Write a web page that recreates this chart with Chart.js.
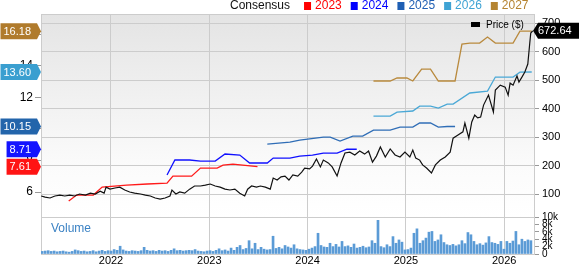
<!DOCTYPE html>
<html>
<head>
<meta charset="utf-8">
<script src="https://cdn.jsdelivr.net/npm/chart.js@4.4.1/dist/chart.umd.min.js"></script>
<style>
  html, body { margin: 0; background: #fff; }
  #chart { display: block; }
</style>
</head>
<body>
<canvas id="chart" width="579" height="264"></canvas>
<script>
// data: [decimal year, value]
const years = [2022, 2023, 2024, 2025, 2026];
const priceTicks = [100, 200, 300, 400, 500, 600, 700];
const epsTicks = [6, 8, 10, 12, 14, 16];
const volTicks = [0, 2, 4, 6, 8, 10];

const price = [
  [2021.29,93],[2021.33,89],[2021.38,86],[2021.43,93],[2021.48,96],[2021.53,93],[2021.58,96],[2021.63,93],
  [2021.68,100],[2021.74,96],[2021.79,103],[2021.84,100],[2021.89,110],[2021.93,103],[2021.95,124],[2021.99,117],
  [2022.04,121],[2022.09,124],[2022.14,114],[2022.19,107],[2022.24,103],[2022.30,100],[2022.35,96],[2022.40,93],
  [2022.45,86],[2022.50,82],[2022.55,86],[2022.60,93],[2022.62,114],[2022.66,100],[2022.70,107],[2022.75,103],
  [2022.80,117],[2022.85,128],[2022.91,128],[2022.96,131],[2023.01,135],[2023.06,128],[2023.11,124],[2023.16,117],
  [2023.21,114],[2023.26,117],[2023.31,103],[2023.36,93],[2023.39,117],[2023.43,128],[2023.48,124],[2023.52,128],
  [2023.57,124],[2023.62,117],[2023.65,156],[2023.69,149],[2023.73,160],[2023.77,163],[2023.81,149],[2023.85,167],
  [2023.90,163],[2023.94,177],[2023.97,191],[2024.02,188],[2024.05,198],[2024.09,223],[2024.13,195],[2024.16,219],
  [2024.21,209],[2024.25,195],[2024.30,163],[2024.34,209],[2024.38,244],[2024.43,247],[2024.48,237],[2024.53,251],
  [2024.58,240],[2024.62,251],[2024.66,212],[2024.70,233],[2024.74,265],[2024.79,230],[2024.84,258],[2024.89,237],
  [2024.94,230],[2024.99,247],[2025.04,230],[2025.07,254],[2025.10,226],[2025.14,219],[2025.17,202],[2025.21,191],
  [2025.26,174],[2025.30,202],[2025.35,219],[2025.40,230],[2025.45,247],[2025.48,296],[2025.53,307],[2025.58,318],
  [2025.60,349],[2025.64,296],[2025.67,353],[2025.70,377],[2025.73,367],[2025.76,370],[2025.79,412],[2025.84,447],
  [2025.89,388],[2025.91,465],[2025.96,482],[2026.01,475],[2026.04,447],[2026.06,489],[2026.09,482],[2026.13,514],
  [2026.15,493],[2026.18,510],[2026.21,528],[2026.24,556],[2026.26,630],[2026.27,665],[2026.29,672.64]
];

const eps2023 = [[2021.57,5.43],[2021.65,5.81],[2021.82,5.81],[2021.91,6.32],[2022.16,6.44],[2022.37,6.51],[2022.57,6.57],
  [2022.63,7.01],[2022.82,7.01],[2022.91,7.52],[2023.08,7.52],[2023.14,7.71],[2023.24,7.77],[2023.34,7.70],[2023.49,7.61]];
const eps2024 = [[2022.57,7.08],[2022.65,8.03],[2022.80,8.03],[2022.91,7.96],[2023.06,7.96],[2023.16,8.41],[2023.31,8.34],
  [2023.41,7.84],[2023.59,7.84],[2023.65,8.15],[2023.82,8.15],[2023.92,8.28],[2024.05,8.34],[2024.16,8.47],[2024.30,8.47],
  [2024.40,8.71],[2024.50,8.71]];
const eps2025 = [[2023.59,9.04],[2023.82,9.16],[2023.92,9.29],[2024.16,9.48],[2024.23,9.48],[2024.33,9.23],[2024.46,9.54],
  [2024.56,9.54],[2024.67,9.92],[2024.84,9.92],[2024.94,10.11],[2025.07,10.11],[2025.14,10.37],[2025.25,10.37],[2025.33,10.11],
  [2025.42,10.15],[2025.50,10.15]];
const eps2026 = [[2024.67,10.81],[2024.84,10.81],[2024.91,11.06],[2025.07,11.13],[2025.14,11.44],[2025.25,11.44],[2025.33,11.32],
  [2025.42,11.57],[2025.48,11.57],[2025.65,12.27],[2025.83,12.39],[2025.91,13.28],[2026.09,13.28],[2026.16,13.59],[2026.28,13.60]];
const eps2027 = [[2024.67,13.03],[2024.84,13.03],[2024.91,13.22],[2025.01,13.22],[2025.07,13.03],[2025.16,13.78],[2025.25,13.78],
  [2025.33,13.03],[2025.50,13.03],[2025.57,15.37],[2025.65,15.43],[2025.75,15.43],[2025.83,15.81],[2025.91,15.43],[2026.09,15.43],
  [2026.16,16.18],[2026.28,16.18]];

// volume in thousands, one bar every volStep years from volStart
const volStart = 2021.30;
const volStep = 0.0305;
const volume = [
  0.7,0.8,0.9,0.7,0.8,0.6,0.7,0.8,0.6,0.5,0.7,1.1,0.9,0.7,0.8,0.6,0.7,0.9,0.6,0.8,1.0,0.7,
  0.9,0.8,1.2,1.0,2.1,1.1,0.8,0.7,0.9,0.8,0.7,
  0.9,1.8,1.0,0.8,0.9,0.7,1.0,0.8,0.9,0.7,1.0,1.4,0.9,1.0,0.8,0.9,1.0,0.9,1.2,0.8,
  0.7,0.6,0.8,0.9,0.7,1.0,1.4,0.9,1.1,0.8,1.6,1.0,1.8,2.3,1.2,1.5,3.6,1.4,2.9,1.2,1.8,
  1.3,1.1,1.2,4.8,1.5,1.8,1.4,2.3,1.9,1.6,2.5,1.4,1.2,
  1.1,1.0,1.3,1.6,2.0,5.6,2.3,1.9,1.8,2.9,2.0,2.6,1.9,3.4,2.0,2.2,1.8,2.7,1.6,1.8,2.1,1.7,1.9,3.6,2.9,9.1,
  2.0,1.7,2.5,2.0,4.7,2.9,3.8,3.2,1.1,1.2,1.6,5.6,6.8,2.9,3.6,4.3,5.9,6.1,3.4,3.8,5.2,3.1,2.5,2.3,2.6,2.2,
  2.5,3.6,2.8,5.8,5.2,3.4,2.5,2.8,2.4,3.0,4.7,3.1,2.9,2.6,3.4,1.3,3.4,2.9,3.5,6.1,2.5,4.0,3.4,3.8,3.6
];

const consensus = [
  { label: '2023', data: eps2023, color: '#ff0000', line: '#ff1a1a', tag: '#ff1414' },
  { label: '2024', data: eps2024, color: '#0000ff', line: '#1010ff', tag: '#1414ff' },
  { label: '2025', data: eps2025, color: '#1f5fb4', line: '#2f6db6', tag: '#2365ab' },
  { label: '2026', data: eps2026, color: '#3fa3d4', line: '#4aa8d6', tag: '#3a9fd0' },
  { label: '2027', data: eps2027, color: '#b58431', line: '#b98a3e', tag: '#b07b2c' }
];

const FONT = "'Liberation Sans', Arial, sans-serif";
Chart.defaults.font.family = FONT;

const pts = a => a.map(([x, y]) => ({ x, y }));
const fixTicks = list => s => { s.ticks = list.map(v => ({ value: v })); };

const datasets = [
  {
    type: 'line', label: 'Price ($)', data: pts(price), yAxisID: 'yPrice',
    borderColor: '#111', borderWidth: 1.2, pointRadius: 0, order: 0
  },
  ...consensus.map(c => ({
    type: 'line', label: c.label, data: pts(c.data), yAxisID: 'yEps',
    borderColor: c.line, borderWidth: 1.3, pointRadius: 0, order: 1
  })),
  {
    type: 'bar', label: 'Volume', yAxisID: 'yVol', order: 2,
    data: volume.map((v, i) => ({ x: volStart + i * volStep, y: v })),
    backgroundColor: '#5b9bd6', barThickness: 2, grouped: false
  }
];

const background = {
  id: 'background',
  beforeDraw(chart) {
    const { ctx, chartArea: a } = chart;
    const p = chart.scales.yPrice;
    ctx.save();
    ctx.fillStyle = '#fff';
    ctx.fillRect(0, 0, chart.width, chart.height);
    const g = ctx.createLinearGradient(0, a.top, 0, p.bottom);
    g.addColorStop(0, '#e4e4e4');
    g.addColorStop(0.75, '#fbfbfb');
    g.addColorStop(1, '#ffffff');
    ctx.fillStyle = g;
    ctx.fillRect(a.left, a.top, a.right - a.left, p.bottom - a.top);
    ctx.strokeStyle = '#cccccc';
    ctx.lineWidth = 1;
    ctx.beginPath();
    ctx.moveTo(a.left, a.top + 0.5);
    ctx.lineTo(a.right, a.top + 0.5);
    ctx.stroke();
    ctx.restore();
  }
};

function leftTag(ctx, text, y, color, tipX) {
  ctx.font = '11px ' + FONT;
  const w = ctx.measureText(text).width;
  const h = 16, arrow = 4;
  const right = tipX - arrow;
  const left = right - w - 9;
  ctx.fillStyle = color;
  ctx.beginPath();
  ctx.moveTo(left, y - h / 2);
  ctx.lineTo(right, y - h / 2);
  ctx.lineTo(tipX, y);
  ctx.lineTo(right, y + h / 2);
  ctx.lineTo(left, y + h / 2);
  ctx.closePath();
  ctx.fill();
  ctx.fillStyle = '#fff';
  ctx.textAlign = 'left';
  ctx.textBaseline = 'middle';
  ctx.fillText(text, left + 3, y + 0.5);
}

const overlay = {
  id: 'overlay',
  afterDraw(chart) {
    const { ctx, chartArea: a } = chart;
    const eps = chart.scales.yEps, p = chart.scales.yPrice, vol = chart.scales.yVol;
    ctx.save();

    // last-value tags on the left
    consensus.forEach(c => {
      const last = c.data[c.data.length - 1][1];
      leftTag(ctx, last.toFixed(2), eps.getPixelForValue(last), c.tag, a.left);
    });

    // last price tag on the right
    const lastPrice = price[price.length - 1][1];
    const py = p.getPixelForValue(lastPrice);
    ctx.font = '11px ' + FONT;
    const tip = a.right - 1;
    ctx.fillStyle = '#000';
    ctx.beginPath();
    ctx.moveTo(tip, py);
    ctx.lineTo(tip + 5, py - 8);
    ctx.lineTo(chart.width, py - 8);
    ctx.lineTo(chart.width, py + 8);
    ctx.lineTo(tip + 5, py + 8);
    ctx.closePath();
    ctx.fill();
    ctx.fillStyle = '#fff';
    ctx.textAlign = 'left';
    ctx.textBaseline = 'middle';
    ctx.fillText(lastPrice.toFixed(2), tip + 5, py + 0.5);

    // consensus legend on top
    ctx.font = '12px ' + FONT;
    ctx.textBaseline = 'middle';
    let x = 230;
    ctx.fillStyle = '#111';
    ctx.fillText('Consensus', x, 6);
    x += ctx.measureText('Consensus').width + 14;
    consensus.forEach(c => {
      ctx.fillStyle = c.color;
      ctx.fillRect(x, 2, 7, 8);
      x += 11;
      ctx.fillText(c.label, x, 6);
      x += ctx.measureText(c.label).width + 9;
    });

    // price legend inside the plot
    ctx.fillStyle = '#000';
    ctx.fillRect(a.right - 63, p.top + 8, 9, 5);
    ctx.font = '10px ' + FONT;
    ctx.fillText('Price ($)', a.right - 48, p.top + 11);

    // volume label
    ctx.font = '12px ' + FONT;
    ctx.fillStyle = '#3b82c4';
    ctx.fillText('Volume', a.left + 10, vol.top + 12);

    ctx.restore();
  }
};

new Chart(document.getElementById('chart'), {
  type: 'line',
  data: { datasets },
  options: {
    responsive: false,
    animation: false,
    devicePixelRatio: 1,
    events: [],
    layout: { padding: { top: 14, left: 0, right: 0, bottom: 0 } },
    plugins: { legend: { display: false }, tooltip: { enabled: false } },
    scales: {
      x: {
        type: 'linear', min: 2021.288, max: 2026.303, offset: false,
        afterBuildTicks: fixTicks(years),
        afterFit: s => { s.height = 10; },
        ticks: { callback: v => String(v), color: '#000', font: { size: 11 }, padding: 0, maxRotation: 0, autoSkip: false },
        grid: { color: '#cccccc', drawTicks: false, offset: false },
        border: { color: '#cccccc' }
      },
      yEps: {
        type: 'linear', position: 'left', min: 2.08, max: 17.27,
        afterBuildTicks: fixTicks(epsTicks),
        afterFit: s => { s.width = 41; },
        ticks: { color: '#000', font: { size: 12 }, padding: 2, autoSkip: false },
        grid: { drawOnChartArea: false, tickLength: 6, tickColor: '#999' },
        border: { color: '#cccccc' }
      },
      yPrice: {
        type: 'linear', position: 'right', stack: 'right', stackWeight: 203,
        min: 19.3, max: 731.6,
        afterBuildTicks: fixTicks(priceTicks),
        afterFit: s => { s.width = 45; },
        ticks: { color: '#000', font: { size: 11 }, padding: 3, autoSkip: false },
        grid: { color: '#cccccc', tickLength: 5, tickColor: '#999' },
        border: { color: '#cccccc' }
      },
      yVol: {
        type: 'linear', position: 'right', stack: 'right', stackWeight: 37,
        min: 0, max: 10,
        afterBuildTicks: fixTicks(volTicks),
        afterFit: s => { s.width = 45; },
        ticks: { callback: v => v ? v + 'k' : '0', color: '#000', font: { size: 10 }, padding: 3, autoSkip: false },
        grid: {
          color: c => (c.tick && c.tick.value === 10 ? '#cccccc' : 'rgba(0,0,0,0)'),
          tickLength: 5, tickColor: '#999'
        },
        border: { color: '#cccccc' }
      }
    }
  },
  plugins: [background, overlay]
});
</script>
</body>
</html>
